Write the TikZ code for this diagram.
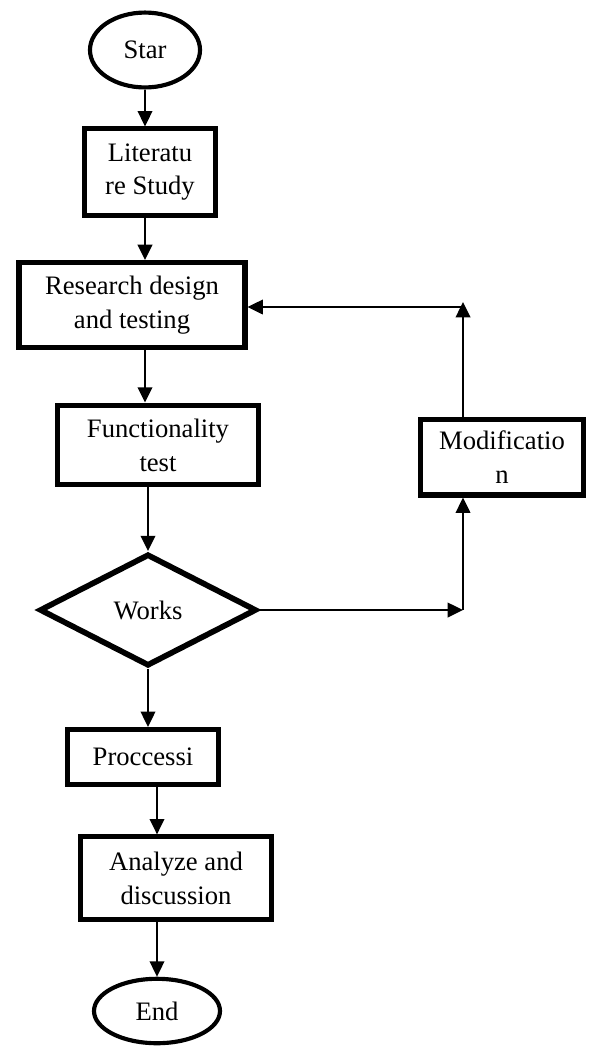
\documentclass[tikz,border=0pt]{standalone}
\usepackage{fontspec}
\setmainfont{Liberation Serif}
\usetikzlibrary{positioning,shapes.geometric,arrows.meta}

\begin{document}
\begin{tikzpicture}[x=0.458pt, y=-0.458pt,
		box/.style={rectangle, draw, line width=2.3pt, align=center, inner sep=0pt},
		term/.style={ellipse, draw, line width=1.9pt, inner sep=0pt},
		cond/.style={diamond, draw, line width=2.6pt, inner sep=0pt},
		arr/.style={-{Triangle[length=7pt,width=6.5pt]}, line width=1.3pt},
		every node/.style={font=\fontsize{12.2}{15.5}\selectfont}]
				\useasboundingbox (0,0) rectangle (590,1046);
				\node[term, minimum width=50.4pt, minimum height=34.3pt] (Star) at (145,50) {Star};
				\node[box, minimum width=60pt, minimum height=39.4pt] (Lit) at (150,172) {Literatu\\re Study};
				\node[box, minimum width=103.5pt, minimum height=38.9pt] (Res) at (132,305) {Research design\\and testing};
				\node[box, minimum width=92.5pt, minimum height=36.6pt] (Func) at (158,445) {Functionality\\test};
				\node[cond, minimum width=99.4pt, minimum height=51.3pt] (Works) at (148,610) {Works};
				\node[box, minimum width=74.7pt, minimum height=34.8pt] (Mod) at (502,457) {Modificatio\\n};
				\node[box, minimum width=69.6pt, minimum height=25.2pt] (Proc) at (143,757) {Proccessi};
				\node[box, minimum width=87.9pt, minimum height=37.6pt] (Ana) at (176,878) {Analyze and\\discussion};
				\node[term, minimum width=57.7pt, minimum height=29.5pt] (End) at (157,1011) {End};
				\coordinate (c1) at (463,610);
				\coordinate (c2) at (463,307);
				\coordinate (c3) at (463,302);
				% main line
				\draw[arr] (Star.south) -- (Star.south |- Lit.north);
				\draw[arr] (Star.south |- Lit.south) -- (Star.south |- Res.north);
				\draw[arr] (Star.south |- Res.south) -- (Star.south |- Func.north);
				\draw[arr] (Works.north |- Func.south) -- (Works.north);
				\draw[arr] (Works.south) -- (Works.south |- Proc.north);
				\draw[arr] (End.north |- Proc.south) -- (End.north |- Ana.north);
				\draw[arr] (End.north |- Ana.south) -- (End.north);
				% loop back
				\draw[arr] (Works.east) -- (c1);
				\draw[arr] (c1) -- (c1 |- Mod.south);
				\draw[arr] (c1 |- Mod.north) -- (c3);
				\draw[arr] (c2) -- (c2 -| Res.east);
			\end{tikzpicture}
\end{document}
